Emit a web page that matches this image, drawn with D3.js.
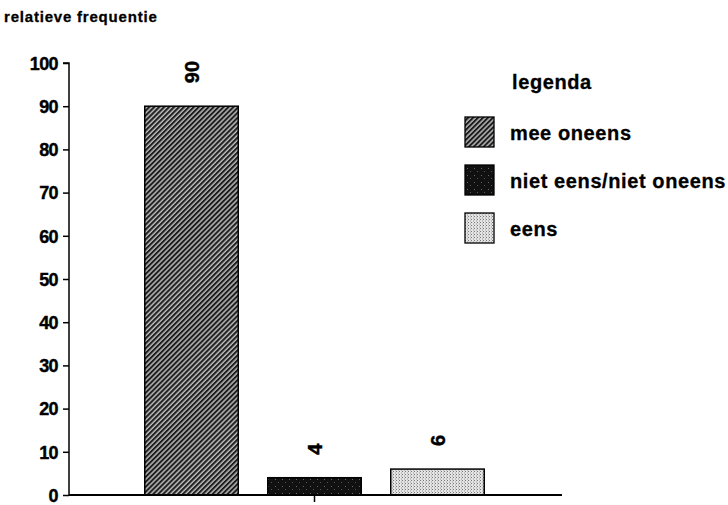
<!DOCTYPE html>
<html><head><meta charset="utf-8">
<script src="https://cdn.jsdelivr.net/npm/d3@7"></script>
<style>
html,body{margin:0;padding:0;background:#fff;}
svg{display:block;font-family:"Liberation Sans",Arial,sans-serif;font-weight:bold;}
</style></head>
<body><svg id="c" width="728" height="505"></svg>
<script>
const categories = ["mee oneens", "niet eens/niet oneens", "eens"];
const values = [90, 4, 6];
const yTicks = [0, 10, 20, 30, 40, 50, 60, 70, 80, 90, 100];
const yTitle = "relatieve frequentie";
const legendTitle = "legenda";
const patternIds = ["hatch", "dark", "dots"];

const svg = d3.select("#c");
const defs = svg.append("defs");

// hatch pattern
const p1 = defs.append("pattern").attr("id", "hatch").attr("patternUnits", "userSpaceOnUse")
  .attr("width", 3.5).attr("height", 3.5).attr("patternTransform", "rotate(45)");
p1.append("rect").attr("width", 3.5).attr("height", 3.5).attr("fill", "#1e1e1e");
p1.append("line").attr("x1", 1).attr("y1", 0).attr("x2", 1).attr("y2", 3.5)
  .attr("stroke", "#e0e0e0").attr("stroke-width", 1.2);

// dark pattern
const p2 = defs.append("pattern").attr("id", "dark").attr("patternUnits", "userSpaceOnUse")
  .attr("width", 7).attr("height", 7);
p2.append("rect").attr("width", 7).attr("height", 7).attr("fill", "#111");
p2.append("rect").attr("x", 2).attr("y", 3).attr("width", 1).attr("height", 1).attr("fill", "#666");
p2.append("rect").attr("x", 5).attr("y", 6).attr("width", 1).attr("height", 1).attr("fill", "#555");

// dots pattern
const p3 = defs.append("pattern").attr("id", "dots").attr("patternUnits", "userSpaceOnUse")
  .attr("width", 3).attr("height", 3);
p3.append("rect").attr("width", 3).attr("height", 3).attr("fill", "#e4e4e4");
p3.append("rect").attr("x", 0).attr("y", 0).attr("width", 1).attr("height", 1).attr("fill", "#777");
p3.append("rect").attr("x", 2).attr("y", 1.5).attr("width", 1).attr("height", 1).attr("fill", "#999");

const y = d3.scaleLinear().domain([0, 100]).range([495, 63]);
const x = d3.scaleBand().domain(categories).range([130, 499]).paddingInner(0.24).paddingOuter(0.12);
const axisX0 = 69, axisX1 = 562;

// title
svg.append("text").attr("x", 4).attr("y", 22).attr("font-size", 15).attr("letter-spacing", 0.8)
  .attr("stroke", "#000").attr("stroke-width", 0.3).text(yTitle);

// y axis
const ya = svg.append("g").attr("transform", `translate(${axisX0},0)`)
  .call(d3.axisLeft(y).tickValues(yTicks).tickSize(6).tickPadding(5).tickFormat(d3.format("d")));
ya.select(".domain").attr("stroke", "#000").attr("stroke-width", 1.5).attr("d", `M-6,${y(100)}H0V${y(0)}`);
ya.selectAll(".tick line").attr("stroke", "#000").attr("stroke-width", 1.5);
ya.selectAll(".tick text").attr("font-size", 18).attr("font-family", "Liberation Sans, Arial").attr("font-weight", "bold")
  .attr("fill", "#000").attr("stroke", "#000").attr("stroke-width", 0.4).attr("letter-spacing", -0.6).attr("dy", "0.35em");

// bars
svg.selectAll("rect.bar").data(categories).enter().append("rect").attr("class", "bar")
  .attr("x", d => x(d)).attr("width", x.bandwidth())
  .attr("y", (d, i) => y(values[i])).attr("height", (d, i) => y(0) - y(values[i]))
  .attr("fill", (d, i) => `url(#${patternIds[i]})`).attr("stroke", "#000").attr("stroke-width", 1.5);

// x axis line
svg.append("line").attr("x1", axisX0).attr("x2", axisX1).attr("y1", y(0)).attr("y2", y(0))
  .attr("stroke", "#000").attr("stroke-width", 1.8);
const midX = x(categories[1]) + x.bandwidth() / 2;
svg.append("line").attr("x1", midX).attr("x2", midX).attr("y1", y(0)).attr("y2", y(0) + 7)
  .attr("stroke", "#000").attr("stroke-width", 1.5);

// value labels (rotated)
svg.selectAll("text.val").data(categories).enter().append("text").attr("class", "val")
  .attr("transform", (d, i) => `translate(${x(d) + x.bandwidth() / 2},${y(values[i]) - 23}) rotate(-90)`)
  .attr("text-anchor", "start").attr("dy", "0.36em").attr("font-size", 20)
  .attr("stroke", "#000").attr("stroke-width", 0.4)
  .text((d, i) => values[i]);

// legend
svg.append("text").attr("x", 512).attr("y", 89).attr("font-size", 20).attr("letter-spacing", 0.6)
  .attr("stroke", "#000").attr("stroke-width", 0.3).text(legendTitle);
const lg = svg.selectAll("g.leg").data(categories).enter().append("g").attr("class", "leg")
  .attr("transform", (d, i) => `translate(465,${117 + i * 48})`);
lg.append("rect").attr("width", 29).attr("height", 30)
  .attr("fill", (d, i) => `url(#${patternIds[i]})`).attr("stroke", "#000").attr("stroke-width", 1.3);
lg.append("text").attr("x", 45).attr("y", 16).attr("dy", "0.35em").attr("font-size", 20).attr("letter-spacing", 0.6)
  .attr("stroke", "#000").attr("stroke-width", 0.3).text(d => d);
</script></body></html>
